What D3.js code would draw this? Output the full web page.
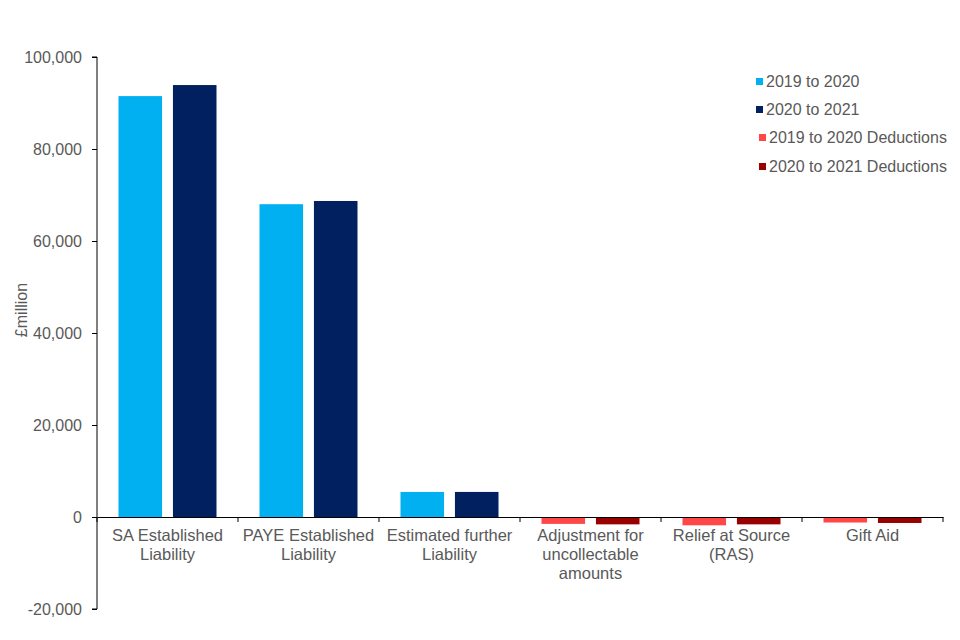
<!DOCTYPE html>
<html>
<head>
<meta charset="utf-8">
<script src="https://cdn.jsdelivr.net/npm/d3@7"></script>
<style>
  body { margin: 0; background: #fff; }
  text { font-family: "Liberation Sans", Arial, sans-serif; fill: #595959; }
</style>
</head>
<body>
<svg id="chart" width="960" height="640"></svg>
<script>
"use strict";

const categories = [
  ["SA Established", "Liability"],
  ["PAYE Established", "Liability"],
  ["Estimated further", "Liability"],
  ["Adjustment for", "uncollectable", "amounts"],
  ["Relief at Source", "(RAS)"],
  ["Gift Aid"]
];
const seriesNames = ["2019 to 2020", "2020 to 2021", "2019 to 2020 Deductions", "2020 to 2021 Deductions"];
// £ million, null where the series has no bar in that category
const v2019 = [91500, 68000, 5450, null, null, null];
const v2020 = [93900, 68700, 5450, null, null, null];
const d2019 = [null, null, null, -1500, -1800, -1200];
const d2020 = [null, null, null, -1600, -1600, -1300];
const yTicks = [-20000, 0, 20000, 40000, 60000, 80000, 100000];

const colors = ["#00B0F0", "#002060", "#FF4747", "#990000"];

const svg = d3.select("#chart");
const m = {left: 97, right: 17, top: 57, bottom: 31};
const W = 960, H = 640;

const x = d3.scaleBand().domain(d3.range(categories.length))
  .range([m.left, W - m.right]).padding(0);
const y = d3.scaleLinear().domain([-20000, 100000]).range([H - m.bottom, m.top]);

// two bars per category
const bw = x.bandwidth();
const sub = d3.scaleBand().domain([0, 1]).range([21.5, bw - 21.5]).paddingInner(0.2);

// y axis
const yAxis = d3.axisLeft(y).tickValues(yTicks).tickSize(5).tickPadding(10)
  .tickFormat(d => d3.format(",")(d).replace("\u2212", "-"));
const gy = svg.append("g").attr("transform", `translate(${m.left},0)`).call(yAxis);
gy.select(".domain").attr("stroke", "#000").attr("d", `M-5,${y(100000)}H0V${y(-20000)}H-5`);
gy.selectAll(".tick line").attr("stroke", "#000");
gy.selectAll(".tick text").style("font-size", "16px").style("fill", "#595959")
  .style("font-family", "Liberation Sans, Arial, sans-serif");

svg.append("text")
  .attr("transform", `translate(27,310) rotate(-90)`)
  .attr("text-anchor", "middle")
  .style("font-size", "16px")
  .text("£million");

// bars
const series = [
  {vals: v2019, slot: 0, color: colors[0]},
  {vals: v2020, slot: 1, color: colors[1]},
  {vals: d2019, slot: 0, color: colors[2]},
  {vals: d2020, slot: 1, color: colors[3]}
];
series.forEach(s => {
  svg.append("g").selectAll("rect")
    .data(s.vals.map((v, i) => ({v, i})).filter(d => d.v !== null))
    .join("rect")
    .attr("x", d => x(d.i) + sub(s.slot))
    .attr("width", sub.bandwidth())
    .attr("y", d => y(Math.max(0, d.v)))
    .attr("height", d => Math.abs(y(d.v) - y(0)))
    .attr("fill", s.color);
});

// x axis at zero, ticks between categories
const xAxis = d3.axisBottom(x).tickSize(0).tickFormat("");
const gx = svg.append("g").attr("transform", `translate(0,${y(0)})`).call(xAxis);
gx.select(".domain").attr("stroke", "#000");
const edges = d3.range(categories.length + 1).map(i => m.left + i * bw);
gx.selectAll("line.edge").data(edges).join("line")
  .attr("x1", d => d).attr("x2", d => d).attr("y1", 0).attr("y2", 5)
  .attr("stroke", "#000");

categories.forEach((lines, i) => {
  const t = svg.append("text")
    .attr("x", x(i) + bw / 2)
    .attr("y", y(0) + 24)
    .attr("text-anchor", "middle")
    .style("font-size", "16.5px");
  lines.forEach((l, j) => t.append("tspan").attr("x", x(i) + bw / 2).attr("dy", j ? 19 : 0).text(l));
});

// legend
const legendPos = [[756, 82], [756, 110], [759, 138], [759, 167]];
seriesNames.forEach((name, i) => {
  const [lx, ly] = legendPos[i];
  svg.append("rect").attr("x", lx).attr("y", ly - 4).attr("width", 7).attr("height", 7).attr("fill", colors[i]);
  svg.append("text").attr("x", lx + 10).attr("y", ly + 5).style("font-size", "16px").text(name);
});
</script>
</body>
</html>
